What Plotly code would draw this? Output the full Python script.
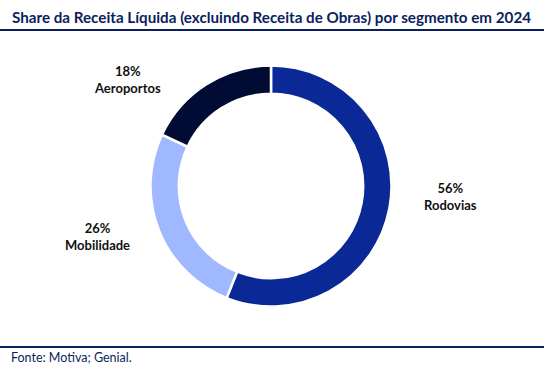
import plotly.graph_objects as go

categories = ["Rodovias", "Mobilidade", "Aeroportos"]
values = [56, 26, 18]
colors = ["#0A2896", "#A0B8FF", "#000C33"]
label_pos = [(450, 196), (98, 236), (127, 79)]  # pixel positions of label centres

W, H = 556, 373
cx, cy, R = 271, 186, 120.5

fig = go.Figure(go.Pie(
    labels=categories, values=values, sort=False, direction="clockwise", rotation=0,
    hole=0.765, textinfo="none", hoverinfo="label+percent",
    marker=dict(colors=colors, line=dict(color="white", width=2.5)),
    domain=dict(x=[(cx - R) / W, (cx + R) / W], y=[(H - cy - R) / H, (H - cy + R) / H]),
    showlegend=False,
))

ann = []
for cat, v, (px, py) in zip(categories, values, label_pos):
    ann.append(dict(x=px / W, y=1 - py / H, xref="paper", yref="paper", showarrow=False,
                    xanchor="center", yanchor="middle",
                    text=f"<b>{v}%<br>{cat}</b>", align="center",
                    font=dict(family="Lato", size=13, color="#111111")))
ann.append(dict(x=10 / W, y=1 - 17 / H, xref="paper", yref="paper", showarrow=False,
                xanchor="left", yanchor="middle",
                text="<b>Share da Receita Líquida (excluindo Receita de Obras) por segmento em 2024</b>",
                font=dict(family="Lato", size=15.2, color="#0A1F5C")))
ann.append(dict(x=9 / W, y=1 - 357 / H, xref="paper", yref="paper", showarrow=False,
                xanchor="left", yanchor="middle", text="Fonte: Motiva; Genial.",
                font=dict(family="Lato", size=12.5, color="#0A1F5C")))

shapes = [
    dict(type="line", xref="paper", yref="paper", x0=0, x1=544 / W, y0=1 - 30 / H, y1=1 - 30 / H,
         line=dict(color="#0A1F5C", width=2)),
    dict(type="line", xref="paper", yref="paper", x0=0, x1=544 / W, y0=1 - 347 / H, y1=1 - 347 / H,
         line=dict(color="#0A1F5C", width=2)),
]

fig.update_layout(width=W, height=H, margin=dict(l=0, r=0, t=0, b=0),
                  paper_bgcolor="white", plot_bgcolor="white",
                  annotations=ann, shapes=shapes)
fig.write_html("out.html", config={"displayModeBar": False},
               post_script="document.body.style.margin='0';document.body.style.overflow='hidden';")
